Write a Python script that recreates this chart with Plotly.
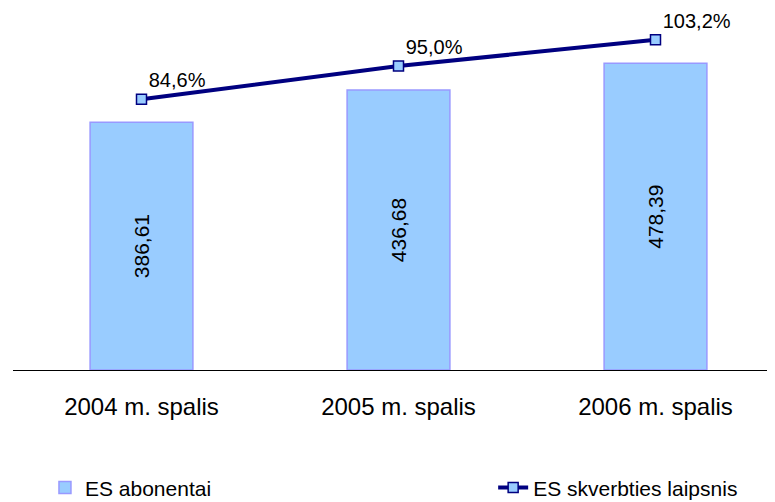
import plotly.graph_objects as go

categories = ["2004 m. spalis", "2005 m. spalis", "2006 m. spalis"]
abonentai = [386.61, 436.68, 478.39]
skverbtis = [84.6, 95.0, 103.2]

bar_labels = [f"{v:.2f}".replace(".", ",") for v in abonentai]
line_labels = [f"{v:.1f}%".replace(".", ",") for v in skverbtis]

FONT = "Liberation Sans, Arial, sans-serif"

fig = go.Figure()

fig.add_trace(go.Bar(
    x=categories, y=abonentai, name="ES abonentai",
    marker=dict(color="#99CCFF", line=dict(color="#9999FF", width=1.5)),
    text=bar_labels, textposition="inside", insidetextanchor="middle",
    textangle=-90, textfont=dict(size=21, color="black", family=FONT),
    legend="legend",
))

fig.add_trace(go.Scatter(
    x=categories, y=skverbtis, name="ES skverbties laipsnis",
    mode="lines+markers+text",
    line=dict(color="#000080", width=4),
    marker=dict(symbol="square", size=10, color="#99CCFF",
                line=dict(color="#000080", width=1.5)),
    text=line_labels, textposition="top right",
    textfont=dict(size=20, color="black", family=FONT),
    yaxis="y2", legend="legend2", cliponaxis=False,
))

# the page is shown with an 8px body margin, so margins are shifted to compensate
fig.update_layout(
    width=775, height=502,
    margin=dict(l=5, r=8, t=2, b=140, autoexpand=False),
    paper_bgcolor="white", plot_bgcolor="white",
    font=dict(family=FONT, color="black"),
    bargap=0.6,
    xaxis=dict(type="category", range=[-0.5, 2.465], showline=True,
               linecolor="black", linewidth=1, showgrid=False,
               ticks="", tickangle=0, automargin=False,
               tickfont=dict(size=24), ticklabelstandoff=15),
    yaxis=dict(range=[0, 561.6], visible=False, showgrid=False),
    yaxis2=dict(range=[0, 112.5], overlaying="y", visible=False, showgrid=False),
    showlegend=True,
    legend=dict(xref="container", yref="container", x=0.0477, y=0.044,
                xanchor="left", yanchor="middle", font=dict(size=21),
                bgcolor="rgba(0,0,0,0)"),
    legend2=dict(xref="container", yref="container", x=0.626, y=0.044,
                 xanchor="left", yanchor="middle", font=dict(size=21),
                 bgcolor="rgba(0,0,0,0)"),
)

fig.write_html("out.html")
